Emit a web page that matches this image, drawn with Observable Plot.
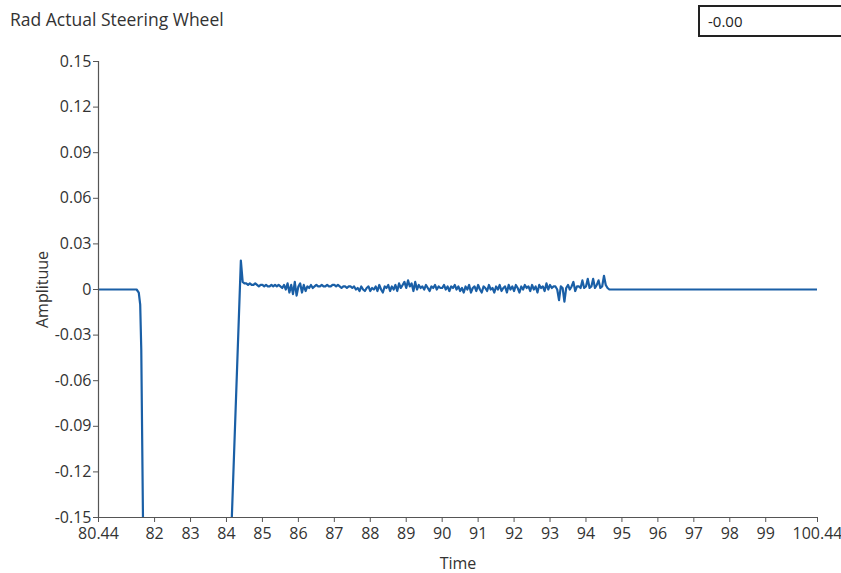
<!DOCTYPE html>
<html>
<head>
<meta charset="utf-8">
<script src="https://cdn.jsdelivr.net/npm/d3@7"></script>
<script src="https://cdn.jsdelivr.net/npm/@observablehq/plot@0.6"></script>
<style>
  html, body { margin: 0; padding: 0; background: #fff; }
  #wrap { position: relative; width: 841px; height: 573px; font-family: "Open Sans", "Noto Sans", sans-serif; }
  #title { position: absolute; left: 10px; top: 7px; font-size: 17.5px; color: #333; }
  #valbox { position: absolute; left: 698px; top: 5px; width: 150px; height: 32px; border: 2px solid #222; box-sizing: border-box; font-size: 15px; color: #222; padding: 4px 0 0 8px; }
  #chart { position: absolute; left: 0; top: 0; }
  #chart svg text { font-size: 16px; fill: #333; }
</style>
</head>
<body>
<div id="wrap">
  <div id="chart"></div>
  <div id="title">Rad Actual Steering Wheel</div>
  <div id="valbox">-0.00</div>
</div>
<script>
// Title / readout
const chartTitle = "Rad Actual Steering Wheel";
const readout = "-0.00";

// Axis ticks
const xTicks = [80.44, 82, 83, 84, 85, 86, 87, 88, 89, 90, 91, 92, 93, 94, 95, 96, 97, 98, 99, 100.44];
const yTicks = [0.15, 0.12, 0.09, 0.06, 0.03, 0, -0.03, -0.06, -0.09, -0.12, -0.15];

// Signal before the noisy part (time, value)
const leadTimes  = [80.44, 81.0, 81.50, 81.56, 81.60, 81.63, 81.75, 84.00, 84.40];
const leadValues = [0.000, 0.000, 0.000, -0.002, -0.010, -0.040, -0.320, -0.250, 0.019];

// Noisy part: sampled every 0.05 s starting at 84.45
const noiseStart = 84.45;
const noiseStep = 0.05;
const noiseValues = [
  0.005, 0.004, 0.004, 0.003, 0.004, 0.003, 0.003, 0.004, 0.003, 0.002, 0.003, 0.003, 0.002, 0.003, 0.002, 0.002, 0.003, 0.002, 0.003, 0.002,
  0.003, 0.002, 0.001, 0.003, 0.000, 0.004, -0.002, 0.003, -0.003, 0.005, -0.004, 0.002, 0.004, -0.002, 0.003, -0.001, 0.002, 0.001, 0.003, 0.001,
  0.002, 0.003, 0.002, 0.002, 0.003, 0.002, 0.002, 0.003, 0.002, 0.002, 0.003, 0.003, 0.002, 0.003, 0.002, 0.001, 0.002, 0.002, 0.001, 0.002,
  0.002, 0.001, 0.002, 0.000, 0.001, -0.001, 0.002, 0.000, -0.001, 0.001, 0.002, -0.001, 0.001, 0.000, 0.002, -0.001, 0.003, 0.000, -0.002, 0.002,
  0.001, 0.003, -0.001, 0.002, 0.000, 0.003, -0.001, 0.004, 0.001, 0.003, 0.005, 0.001, 0.006, 0.002, 0.004, -0.001, 0.005, 0.000, 0.003, 0.001,
  0.002, 0.000, 0.003, 0.001, -0.001, 0.002, 0.001, 0.003, 0.000, 0.002, 0.001, 0.001, 0.003, 0.000, 0.002, -0.001, 0.002, 0.001, 0.003, 0.000,
  0.002, -0.001, 0.001, -0.002, 0.002, 0.000, 0.003, -0.002, 0.001, 0.002, -0.001, 0.003, 0.000, -0.002, 0.002, 0.001, -0.001, 0.003, 0.000, 0.001,
  -0.002, 0.002, 0.000, 0.003, -0.001, 0.001, 0.002, -0.002, 0.003, 0.000, 0.002, -0.001, 0.003, 0.001, -0.002, 0.002, 0.000, 0.003, 0.001, 0.002,
  -0.001, 0.003, 0.000, 0.002, -0.002, 0.003, 0.001, 0.002, -0.001, 0.004, 0.000, 0.003, 0.001, 0.002, 0.002, 0.000, -0.007, 0.002, 0.001, -0.008,
  0.001, 0.003, 0.000, 0.002, 0.005, -0.001, 0.002, 0.002, 0.001, 0.006, 0.001, 0.002, 0.007, 0.001, 0.002, 0.007, 0.001, 0.003, 0.006, 0.001,
  0.002, 0.009, 0.003, 0.001, 0.000
];

// Settled tail
const tailTimes  = [94.70, 100.44];
const tailValues = [0.000, 0.000];

const data = [];
leadTimes.forEach((t, i) => data.push({t, v: leadValues[i]}));
noiseValues.forEach((v, i) => data.push({t: +(noiseStart + i * noiseStep).toFixed(2), v}));
tailTimes.forEach((t, i) => data.push({t, v: tailValues[i]}));

document.getElementById("title").textContent = chartTitle;
document.getElementById("valbox").textContent = readout;

const axisColor = "#555";
const chart = Plot.plot({
  width: 841,
  height: 573,
  marginLeft: 98,
  marginRight: 24,
  marginTop: 61,
  marginBottom: 56,
  style: {fontFamily: "'Open Sans', 'Noto Sans', sans-serif", color: "#333", background: "transparent"},
  x: {domain: [80.44, 100.44]},
  y: {domain: [-0.15, 0.15]},
  marks: [
    Plot.line(data, {x: "t", y: "v", stroke: "#1a5fa6", strokeWidth: 2.2, clip: true}),
    Plot.ruleX([80.44], {stroke: axisColor, strokeWidth: 1.2}),
    Plot.ruleY([-0.15], {stroke: axisColor, strokeWidth: 1.2}),
    Plot.axisX({ticks: xTicks, tickFormat: d => String(d), tickSize: 5, tickPadding: 5, stroke: axisColor,
      label: "Time", labelAnchor: "center", labelArrow: "none", labelOffset: 51}),
    Plot.axisY({ticks: yTicks, tickFormat: d => d === 0 ? "0" : d.toFixed(2), tickSize: 5, tickPadding: 2, stroke: axisColor,
      label: "Amplituue", labelAnchor: "center", labelArrow: "none", labelOffset: 62})
  ]
});
document.getElementById("chart").appendChild(chart);
</script>
</body>
</html>
